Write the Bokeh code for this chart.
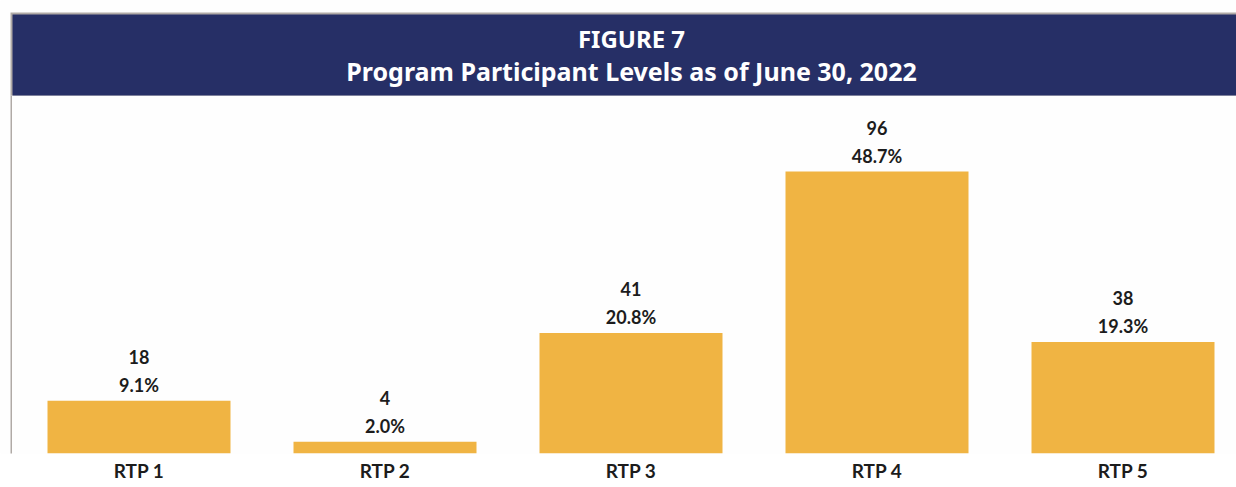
from bokeh.plotting import figure
from bokeh.models import ColumnDataSource, BoxAnnotation, Label, FixedTicker
from bokeh.core.properties import value
from bokeh.embed import file_html
from bokeh.resources import INLINE

# ---- data ----
categories = ["RTP 1", "RTP 2", "RTP 3", "RTP 4", "RTP 5"]
counts = [18, 4, 41, 96, 38]
percents = ["9.1%", "2.0%", "20.8%", "48.7%", "19.3%"]
title_line1 = "FIGURE 7"
title_line2 = "Program Participant Levels as of June 30, 2022"

NAVY = "#262f66"
GOLD = "#f0b443"
TEXT = "#1c1c1c"
BORDER = "#b0aaa6"

W, H = 1236, 487
BOTTOM = 34
PX_PER_CAT = 246.0
X0 = -138.5 / PX_PER_CAT
X1 = X0 + W / PX_PER_CAT
PX_PER_UNIT = 2.9375
FRAME_H = H - BOTTOM
Y1 = FRAME_H / PX_PER_UNIT

def ydat(py):
    return (FRAME_H - py) / PX_PER_UNIT

def xdat(px):
    return X0 + px / PX_PER_CAT

xs = list(range(len(categories)))
src = ColumnDataSource(dict(x=xs, cnt=counts, cnt_txt=[str(c) for c in counts], pct=percents))

p = figure(width=W, height=H, output_backend="svg", toolbar_location=None,
           x_range=(X0, X1), y_range=(0, Y1),
           min_border_left=0, min_border_right=0, min_border_top=0, min_border_bottom=0)
p.background_fill_color = "#fefefe"
p.border_fill_color = "#ffffff"
p.outline_line_color = None
p.grid.visible = False
p.yaxis.visible = False

# header band and border lines
p.add_layout(BoxAnnotation(left=xdat(10), right=X1 + 1, bottom=ydat(95), top=ydat(12),
                           fill_color=BORDER, fill_alpha=1, line_color=None, level="underlay"))
p.add_layout(BoxAnnotation(left=xdat(12), right=X1 + 1, bottom=ydat(95), top=ydat(14),
                           fill_color=NAVY, fill_alpha=1, line_color=None, level="underlay"))
p.add_layout(BoxAnnotation(left=xdat(10), right=xdat(11.5), bottom=-5, top=ydat(95),
                           fill_color=BORDER, fill_alpha=1, line_color=None, level="underlay"))

p.add_layout(Label(x=xdat(631), y=ydat(38), text=title_line1, text_align="center", text_baseline="middle",
                   text_font="Noto Sans", text_font_style="bold", text_font_size="24px",
                   text_color="white"))
p.add_layout(Label(x=xdat(631), y=ydat(70), text=title_line2, text_align="center", text_baseline="middle",
                   text_font="Noto Sans", text_font_style="bold", text_font_size="25px",
                   text_color="white"))

p.vbar(x="x", top="cnt", bottom=0, width=183 / PX_PER_CAT, source=src,
       fill_color=GOLD, line_color=None)

p.text(x="x", y="cnt", text="pct", source=src, y_offset=-16,
       text_align="center", text_baseline="middle", text_font=value("Lato"),
       text_font_style="bold", text_font_size="18px", text_color=TEXT)
p.text(x="x", y="cnt", text="cnt_txt", source=src, y_offset=-44,
       text_align="center", text_baseline="middle", text_font=value("Lato"),
       text_font_style="bold", text_font_size="18px", text_color=TEXT)

ax = p.xaxis[0]
ax.ticker = FixedTicker(ticks=xs)
ax.major_label_overrides = {i: c for i, c in zip(xs, categories)}
ax.axis_line_color = None
ax.major_tick_line_color = None
ax.minor_tick_line_color = None
ax.major_tick_out = 0
ax.major_tick_in = 0
ax.major_label_standoff = 5
ax.major_label_text_font = "Lato"
ax.major_label_text_font_style = "bold"
ax.major_label_text_font_size = "19px"
ax.major_label_text_color = TEXT
p.min_border_bottom = BOTTOM

open("out.html", "w").write(file_html(p, INLINE))
